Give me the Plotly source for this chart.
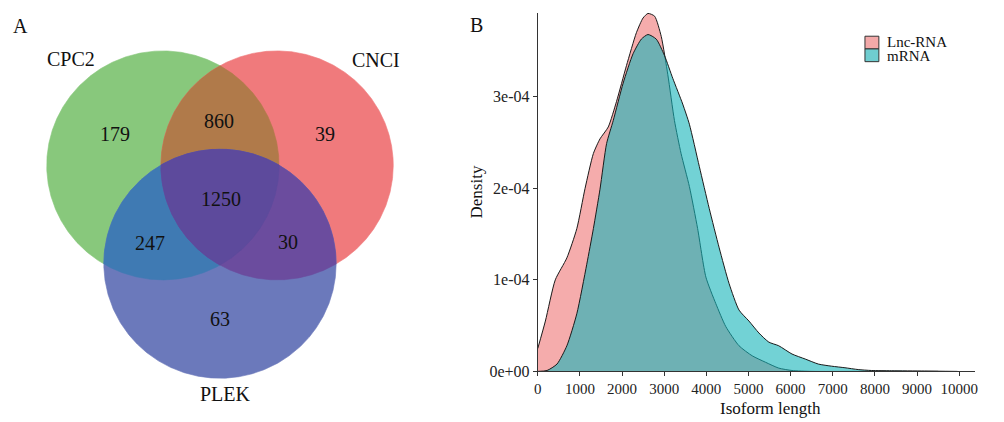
import numpy as np
import plotly.graph_objects as go

W, H = 1004, 422
FONT = "Liberation Serif"

# ---------------- data ----------------
venn_sets = ["CPC2", "CNCI", "PLEK"]
# regions: CPC2 only, CNCI only, PLEK only, CPC2&CNCI, CPC2&PLEK, CNCI&PLEK, all
region_keys = ["A", "B", "C", "AB", "AC", "BC", "ABC"]
region_counts = [179, 39, 63, 860, 247, 30, 1250]

iso_x = [0, 181, 416, 691, 927, 1123, 1320, 1477, 1673, 1870, 2105, 2341, 2498, 2616,
         2773, 2930, 3087, 3244, 3401, 3598, 3794, 3990, 4226, 4462, 4776, 5090, 5405,
         5719, 6033, 6500, 7500, 9500]
lnc_density_e4 = [0.25, 0.55, 1.00, 1.24, 1.56, 2.00, 2.38, 2.54, 2.67, 2.95, 3.34, 3.70,
                  3.86, 3.91, 3.88, 3.66, 3.24, 2.74, 2.38, 2.02, 1.56, 1.03, 0.74, 0.49,
                  0.28, 0.17, 0.10, 0.036, 0.01, 0.0, 0.0, 0.0]

m_x = [0, 220, 456, 691, 927, 1163, 1320, 1477, 1634, 1791, 2027, 2262, 2459, 2616, 2812,
       3008, 3205, 3440, 3598, 3833, 4069, 4305, 4540, 4776, 5012, 5247, 5483, 5719, 6033,
       6347, 6661, 6975, 7290, 7604, 7918, 8390, 9175, 9960]
mrna_density_e4 = [0.0, 0.01, 0.08, 0.28, 0.63, 1.17, 1.56, 1.99, 2.49, 2.74, 3.15, 3.47,
                   3.63, 3.68, 3.63, 3.45, 3.20, 2.92, 2.70, 2.24, 1.78, 1.35, 0.96, 0.67,
                   0.55, 0.42, 0.32, 0.28, 0.19, 0.135, 0.08, 0.057, 0.04, 0.02, 0.01,
                   0.007, 0.004, 0.0]

x_ticks = list(range(0, 10001, 1000))
y_ticks = [0, 1e-4, 2e-4, 3e-4]
y_ticklabels = ["0e+00", "1e-04", "2e-04", "3e-04"]

# ---------------- styles ----------------
region_colors = {"A": "#88C87C", "B": "#F07A7C", "C": "#6B79BB",
                 "AB": "#B07A4A", "AC": "#3F7AB3", "BC": "#6B4C9E", "ABC": "#5D4A9C"}
circle_centers = {"A": (160, 169), "B": (275, 169), "C": (217.5, 269.5)}
R = 117
label_pos = {"CPC2": (67, 60), "CNCI": (375, 61), "PLEK": (223, 403)}
count_pos = {"A": (112, 137), "B": (323, 137), "C": (218, 326), "AB": (217, 124),
             "AC": (147, 248), "BC": (286, 247), "ABC": (219, 203)}


def circ(c, n=1440):
    t = np.linspace(0, 2 * np.pi, n, endpoint=False)
    return np.c_[c[0] + R * np.cos(t), c[1] + R * np.sin(t)]


def inside(p, c):
    return (p[:, 0] - c[0]) ** 2 + (p[:, 1] - c[1]) ** 2 <= R * R + 1e-6


def region(keys):
    pts = []
    for k in keys:
        p = circ(circle_centers[k])
        m = np.ones(len(p), bool)
        for o in keys:
            if o != k:
                m &= inside(p, circle_centers[o])
        pts.append(p[m])
    pts = np.vstack(pts)
    cen = pts.mean(axis=0)
    ang = np.arctan2(pts[:, 1] - cen[1], pts[:, 0] - cen[0])
    pts = pts[np.argsort(ang)]
    return np.vstack([pts, pts[:1]])


fig = go.Figure()

# Venn polygons (pixel coordinates on hidden axes x2/y2)
order = [["A"], ["B"], ["C"], ["A", "B"], ["A", "C"], ["B", "C"], ["A", "B", "C"]]
for keys in order:
    if len(keys) == 1:
        poly = circ(circle_centers[keys[0]])
        poly = np.vstack([poly, poly[:1]])
    else:
        poly = region(keys)
    col = region_colors["".join(keys)]
    fig.add_trace(go.Scatter(x=poly[:, 0], y=poly[:, 1], mode="lines", fill="toself",
                             fillcolor=col, line=dict(width=0.6, color=col),
                             xaxis="x2", yaxis="y2", hoverinfo="skip", showlegend=False))

# Density curves
fig.add_trace(go.Scatter(x=iso_x, y=[v * 1e-4 for v in lnc_density_e4], mode="lines",
                         name="Lnc-RNA", fill="tozeroy", fillcolor="rgba(240,128,128,0.65)",
                         line=dict(color="#1a1a1a", width=1, shape="spline", smoothing=0.6),
                         showlegend=False))
fig.add_trace(go.Scatter(x=m_x, y=[v * 1e-4 for v in mrna_density_e4], mode="lines",
                         name="mRNA", fill="tozeroy", fillcolor="rgba(20,180,185,0.6)",
                         line=dict(color="#1a1a1a", width=1, shape="spline", smoothing=0.6),
                         showlegend=False))


def pann(x, y, text, size, **kw):
    d = dict(x=x, y=y, xref="x2", yref="y2", text=text, showarrow=False,
             font=dict(family=FONT, size=size, color="#111"))
    d.update(kw)
    return d


ann = []
for i, k in enumerate(region_keys):
    x, y = count_pos[k]
    ann.append(pann(x, y, str(region_counts[i]), 20))
for s in venn_sets:
    x, y = label_pos[s]
    ann.append(pann(x, y, s, 20))

ann += [
    pann(17, 27, "A", 20),
    pann(476, 26, "B", 20),
    pann(476, 196, "Density", 17, textangle=-90),
    pann(772, 406, "Isoform length", 17, yanchor="top"),
    pann(887, 43, "Lnc-RNA", 15, xanchor="left"),
    pann(887, 57, "mRNA", 15, xanchor="left"),
]

shapes = [
    dict(type="rect", xref="x2", yref="y2", x0=867, x1=881, y0=37, y1=50,
         fillcolor="#F3A9A9", line=dict(color="#333", width=1)),
    dict(type="rect", xref="x2", yref="y2", x0=867, x1=881, y0=50, y1=63,
         fillcolor="#6FCDD0", line=dict(color="#333", width=1)),
]

fig.update_layout(
    width=W, height=H, margin=dict(l=0, r=0, t=0, b=0),
    paper_bgcolor="white", plot_bgcolor="rgba(0,0,0,0)",
    font=dict(family=FONT, color="#111"),
    showlegend=False,
    xaxis=dict(domain=[537.5 / W, 978 / W], range=[0, 10380], showline=True, linecolor="#333",
               linewidth=1, ticks="outside", ticklen=4, tickcolor="#333", tickvals=x_ticks,
               ticktext=[str(v) for v in x_ticks], showgrid=False, zeroline=False,
               tickfont=dict(family=FONT, size=15, color="#222")),
    yaxis=dict(domain=[1 - 379.5 / H, 1 - 13 / H], range=[0, 3.918e-4], showline=True,
               linecolor="#333", linewidth=1, ticks="outside", ticklen=4, tickcolor="#333",
               tickvals=y_ticks, ticktext=y_ticklabels, showgrid=False, zeroline=False,
               tickfont=dict(family=FONT, size=16, color="#222")),
    xaxis2=dict(domain=[0, 1], range=[0, W], visible=False, anchor="y2"),
    yaxis2=dict(domain=[0, 1], range=[H, 0], visible=False, anchor="x2"),
    annotations=ann, shapes=shapes,
)

fig.write_html("out.html")
